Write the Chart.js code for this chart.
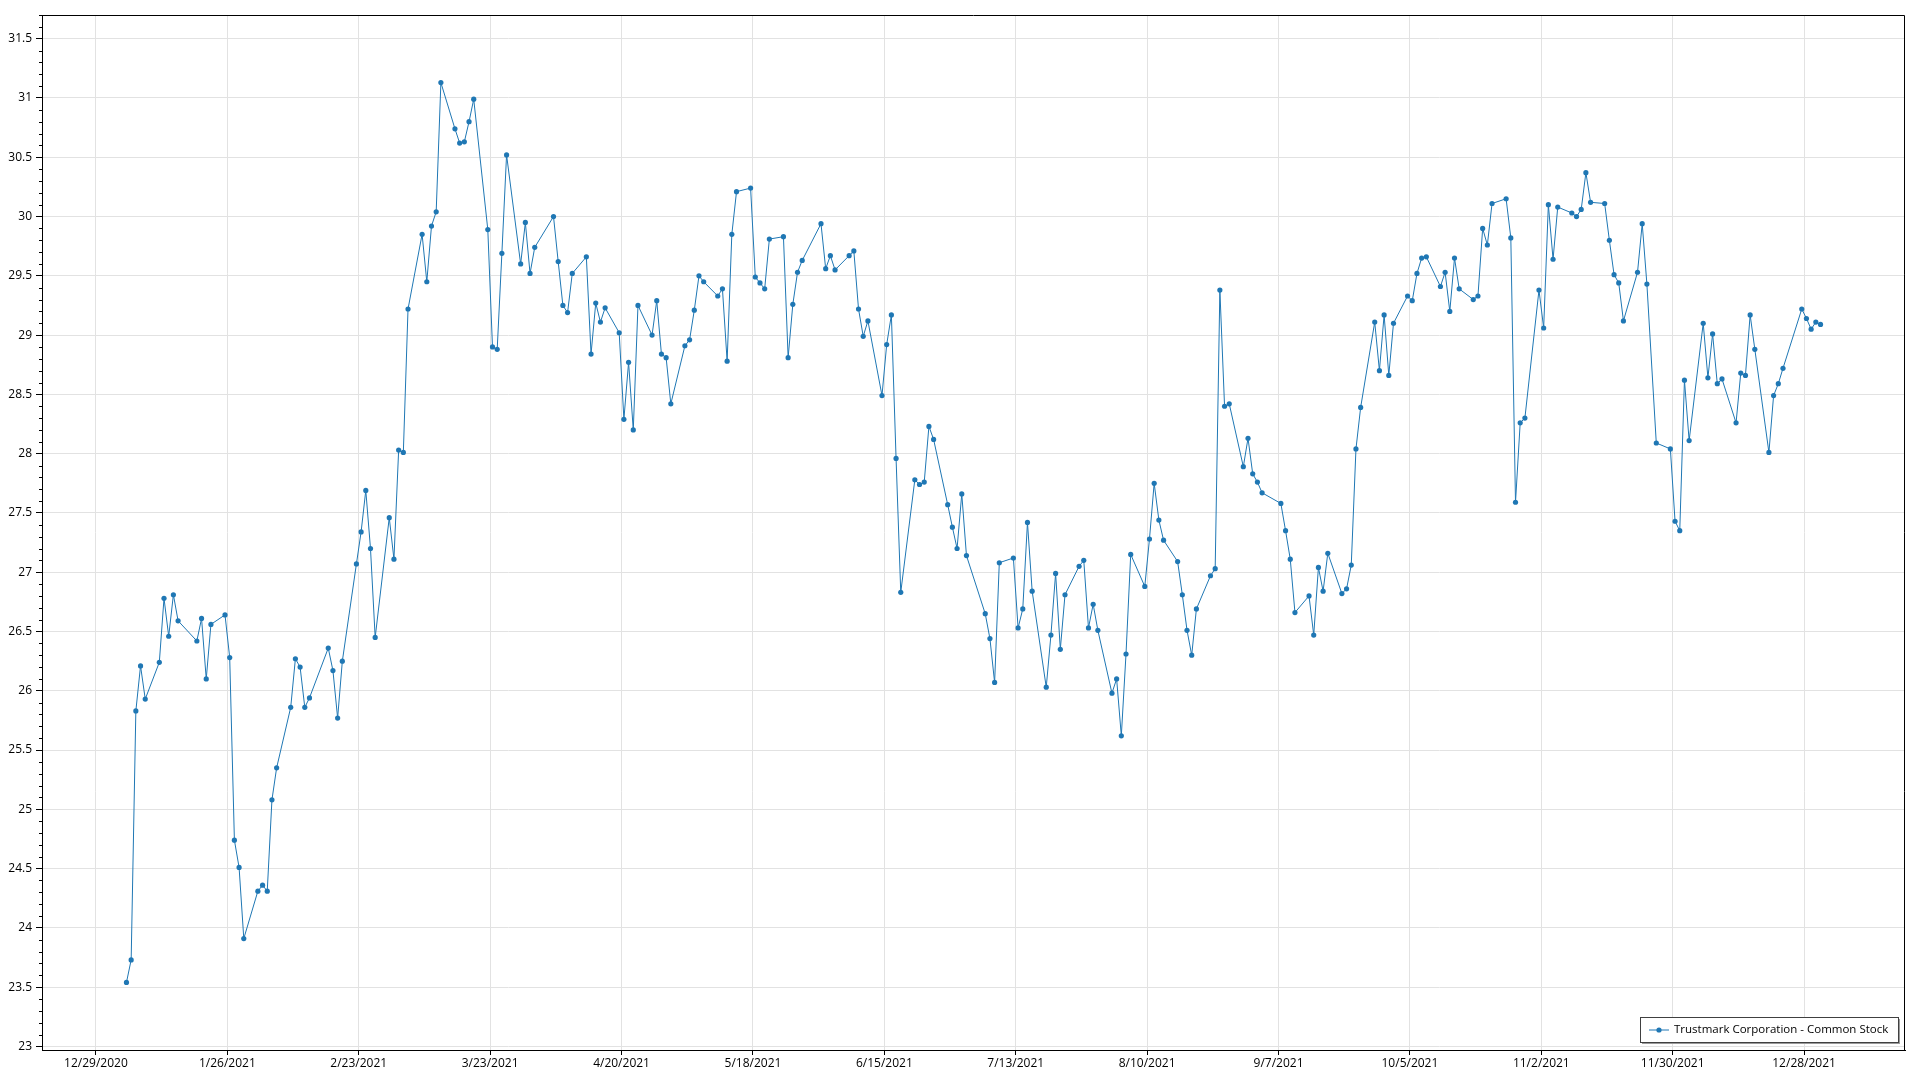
<!DOCTYPE html>
<html>
<head>
<meta charset="utf-8">
<script src="https://cdn.jsdelivr.net/npm/chart.js@4.4.1/dist/chart.umd.min.js"></script>
<style>
  html, body { margin: 0; padding: 0; background: #fff; }
  #wrap { width: 1920px; height: 1080px; }
</style>
</head>
<body>
<div id="wrap"><canvas id="stockChart" width="1920" height="1080"></canvas></div>
<script>
const seriesName = "Trustmark Corporation - Common Stock";

// trading days of 2021
const tradeDates = [
  "1/4/2021","1/5/2021","1/6/2021","1/7/2021","1/8/2021","1/11/2021","1/12/2021","1/13/2021","1/14/2021","1/15/2021","1/19/2021","1/20/2021","1/21/2021","1/22/2021","1/25/2021","1/26/2021","1/27/2021","1/28/2021","1/29/2021",
  "2/1/2021","2/2/2021","2/3/2021","2/4/2021","2/5/2021","2/8/2021","2/9/2021","2/10/2021","2/11/2021","2/12/2021","2/16/2021","2/17/2021","2/18/2021","2/19/2021","2/22/2021","2/23/2021","2/24/2021","2/25/2021","2/26/2021",
  "3/1/2021","3/2/2021","3/3/2021","3/4/2021","3/5/2021","3/8/2021","3/9/2021","3/10/2021","3/11/2021","3/12/2021","3/15/2021","3/16/2021","3/17/2021","3/18/2021","3/19/2021","3/22/2021","3/23/2021","3/24/2021","3/25/2021","3/26/2021","3/29/2021","3/30/2021","3/31/2021",
  "4/1/2021","4/5/2021","4/6/2021","4/7/2021","4/8/2021","4/9/2021","4/12/2021","4/13/2021","4/14/2021","4/15/2021","4/16/2021","4/19/2021","4/20/2021","4/21/2021","4/22/2021","4/23/2021","4/26/2021","4/27/2021","4/28/2021","4/29/2021","4/30/2021",
  "5/3/2021","5/4/2021","5/5/2021","5/6/2021","5/7/2021","5/10/2021","5/11/2021","5/12/2021","5/13/2021","5/14/2021","5/17/2021","5/18/2021","5/19/2021","5/20/2021","5/21/2021","5/24/2021","5/25/2021","5/26/2021","5/27/2021","5/28/2021",
  "6/1/2021","6/2/2021","6/3/2021","6/4/2021","6/7/2021","6/8/2021","6/9/2021","6/10/2021","6/11/2021","6/14/2021","6/15/2021","6/16/2021","6/17/2021","6/18/2021","6/21/2021","6/22/2021","6/23/2021","6/24/2021","6/25/2021","6/28/2021","6/29/2021","6/30/2021",
  "7/1/2021","7/2/2021","7/6/2021","7/7/2021","7/8/2021","7/9/2021","7/12/2021","7/13/2021","7/14/2021","7/15/2021","7/16/2021","7/19/2021","7/20/2021","7/21/2021","7/22/2021","7/23/2021","7/26/2021","7/27/2021","7/28/2021","7/29/2021","7/30/2021",
  "8/2/2021","8/3/2021","8/4/2021","8/5/2021","8/6/2021","8/9/2021","8/10/2021","8/11/2021","8/12/2021","8/13/2021","8/16/2021","8/17/2021","8/18/2021","8/19/2021","8/20/2021","8/23/2021","8/24/2021","8/25/2021","8/26/2021","8/27/2021","8/30/2021","8/31/2021",
  "9/1/2021","9/2/2021","9/3/2021","9/7/2021","9/8/2021","9/9/2021","9/10/2021","9/13/2021","9/14/2021","9/15/2021","9/16/2021","9/17/2021","9/20/2021","9/21/2021","9/22/2021","9/23/2021","9/24/2021","9/27/2021","9/28/2021","9/29/2021","9/30/2021",
  "10/1/2021","10/4/2021","10/5/2021","10/6/2021","10/7/2021","10/8/2021","10/11/2021","10/12/2021","10/13/2021","10/14/2021","10/15/2021","10/18/2021","10/19/2021","10/20/2021","10/21/2021","10/22/2021","10/25/2021","10/26/2021","10/27/2021","10/28/2021","10/29/2021",
  "11/1/2021","11/2/2021","11/3/2021","11/4/2021","11/5/2021","11/8/2021","11/9/2021","11/10/2021","11/11/2021","11/12/2021","11/15/2021","11/16/2021","11/17/2021","11/18/2021","11/19/2021","11/22/2021","11/23/2021","11/24/2021","11/26/2021","11/29/2021","11/30/2021",
  "12/1/2021","12/2/2021","12/3/2021","12/6/2021","12/7/2021","12/8/2021","12/9/2021","12/10/2021","12/13/2021","12/14/2021","12/15/2021","12/16/2021","12/17/2021","12/20/2021","12/21/2021","12/22/2021","12/23/2021","12/27/2021","12/28/2021","12/29/2021","12/30/2021","12/31/2021"
];

const closePrices = [
  23.54,23.73,25.83,26.21,25.93,26.24,26.78,26.46,26.81,26.59,26.42,26.61,26.10,26.56,26.64,26.28,24.74,24.51,23.91,
  24.31,24.36,24.31,25.08,25.35,25.86,26.27,26.20,25.86,25.94,26.36,26.17,25.77,26.25,27.07,27.34,27.69,27.20,26.45,
  27.46,27.11,28.03,28.01,29.22,29.85,29.45,29.92,30.04,31.13,30.74,30.62,30.63,30.80,30.99,29.89,28.90,28.88,29.69,30.52,29.60,29.95,29.52,
  29.74,30.00,29.62,29.25,29.19,29.52,29.66,28.84,29.27,29.11,29.23,29.02,28.29,28.77,28.20,29.25,29.00,29.29,28.84,28.81,28.42,
  28.91,28.96,29.21,29.50,29.45,29.33,29.39,28.78,29.85,30.21,30.24,29.49,29.44,29.39,29.81,29.83,28.81,29.26,29.53,29.63,
  29.94,29.56,29.67,29.55,29.67,29.71,29.22,28.99,29.12,28.49,28.92,29.17,27.96,26.83,27.78,27.74,27.76,28.23,28.12,27.57,27.38,27.20,
  27.66,27.14,26.65,26.44,26.07,27.08,27.12,26.53,26.69,27.42,26.84,26.03,26.47,26.99,26.35,26.81,27.05,27.10,26.53,26.73,26.51,
  25.98,26.10,25.62,26.31,27.15,26.88,27.28,27.75,27.44,27.27,27.09,26.81,26.51,26.30,26.69,26.97,27.03,29.38,28.40,28.42,27.89,28.13,
  27.83,27.76,27.67,27.58,27.35,27.11,26.66,26.80,26.47,27.04,26.84,27.16,26.82,26.86,27.06,28.04,28.39,29.11,28.70,29.17,28.66,
  29.10,29.33,29.29,29.52,29.65,29.66,29.41,29.53,29.20,29.65,29.39,29.30,29.33,29.90,29.76,30.11,30.15,29.82,27.59,28.26,28.30,
  29.38,29.06,30.10,29.64,30.08,30.03,30.00,30.06,30.37,30.12,30.11,29.80,29.51,29.44,29.12,29.53,29.94,29.43,28.09,28.04,27.43,
  27.35,28.62,28.11,29.10,28.64,29.01,28.59,28.63,28.26,28.68,28.66,29.17,28.88,28.01,28.49,28.59,28.72,29.22,29.14,29.05,29.11,29.09
];

const xTickLabels = ["12/29/2020","1/26/2021","2/23/2021","3/23/2021","4/20/2021","5/18/2021","6/15/2021",
  "7/13/2021","8/10/2021","9/7/2021","10/5/2021","11/2/2021","11/30/2021","12/28/2021"];
const yTickValues = [23,23.5,24,24.5,25,25.5,26,26.5,27,27.5,28,28.5,29,29.5,30,30.5,31,31.5];

// prices are stamped at midday, ticks at midnight
const sampleHour = 12;

const lineColor = "#1f77b4";
const fontFamily = "'Segoe UI', 'Open Sans', 'Noto Sans', sans-serif";

function dayNum(s, hour) {
  const p = s.split('/').map(Number);
  return Date.UTC(p[2], p[0] - 1, p[1], hour || 0) / 86400000;
}

const points = tradeDates.map((d, i) => ({ x: dayNum(d, sampleHour), y: closePrices[i] }));
const firstTick = dayNum(xTickLabels[0]);

// minor ticks on the value axis + frame around the plot
const axisDeco = {
  id: 'axisDeco',
  afterDraw(chart) {
    const ctx = chart.ctx;
    const a = chart.chartArea;
    const ys = chart.scales.y;
    ctx.save();
    ctx.strokeStyle = '#000';
    ctx.lineWidth = 1;
    ctx.beginPath();
    for (let k = Math.ceil(ys.min * 10); k <= Math.floor(ys.max * 10); k++) {
      if (k % 5 === 0) continue;
      const py = Math.round(ys.getPixelForValue(k / 10)) + 0.5;
      ctx.moveTo(a.left - 3, py);
      ctx.lineTo(a.left, py);
    }
    ctx.stroke();
    ctx.beginPath();
    ctx.moveTo(Math.round(a.left) + 0.5, Math.round(a.top) + 0.5);
    ctx.lineTo(Math.round(a.right) - 0.5, Math.round(a.top) + 0.5);
    ctx.lineTo(Math.round(a.right) - 0.5, Math.round(a.bottom));
    ctx.stroke();
    ctx.restore();
  }
};

// legend box in the lower right corner of the plot
const legendBox = {
  id: 'legendBox',
  afterDraw(chart) {
    const ctx = chart.ctx;
    const a = chart.chartArea;
    const ds = chart.data.datasets[0];
    ctx.save();
    ctx.font = '11.5px ' + fontFamily;
    const tw = ctx.measureText(ds.label).width;
    const w = Math.round(tw + 44), h = 25;
    const x = Math.round(a.right - 7 - w), y = Math.round(a.bottom - 8 - h);
    ctx.fillStyle = '#9a9a9a';
    ctx.fillRect(x + 2, y + 2, w, h);
    ctx.fillStyle = '#fff';
    ctx.fillRect(x, y, w, h);
    ctx.strokeStyle = '#404040';
    ctx.lineWidth = 1;
    ctx.strokeRect(x + 0.5, y + 0.5, w, h);
    const cy = y + h / 2 + 0.5;
    ctx.strokeStyle = ds.borderColor;
    ctx.beginPath();
    ctx.moveTo(x + 9, cy);
    ctx.lineTo(x + 29, cy);
    ctx.stroke();
    ctx.fillStyle = ds.pointBackgroundColor;
    ctx.beginPath();
    ctx.arc(x + 19, cy, 2.6, 0, Math.PI * 2);
    ctx.fill();
    ctx.fillStyle = '#000';
    ctx.textBaseline = 'middle';
    ctx.fillText(ds.label, x + 34, cy);
    ctx.restore();
  }
};

Chart.defaults.font.family = fontFamily;
Chart.defaults.font.size = 12;
Chart.defaults.color = '#000';

new Chart(document.getElementById('stockChart'), {
  type: 'line',
  data: {
    datasets: [{
      label: seriesName,
      data: points,
      borderColor: lineColor,
      backgroundColor: lineColor,
      pointBackgroundColor: lineColor,
      borderWidth: 1,
      pointRadius: 2.6,
      pointBorderWidth: 0,
      pointHoverRadius: 2.6,
      tension: 0,
      fill: false
    }]
  },
  options: {
    responsive: false,
    animation: false,
    devicePixelRatio: 1,
    layout: { padding: { top: 15, right: 15, left: 0, bottom: 0 } },
    plugins: {
      legend: { display: false },
      tooltip: { enabled: false }
    },
    scales: {
      x: {
        type: 'linear',
        min: firstTick - 11.5,
        max: firstTick + 385.5,
        afterBuildTicks: s => { s.ticks = xTickLabels.map(l => ({ value: dayNum(l) })); },
        afterFit: s => { s.height = 30; },
        ticks: {
          autoSkip: false,
          maxRotation: 0,
          padding: 1,
          callback: (v, i) => xTickLabels[i]
        },
        grid: { color: '#e2e2e2', tickColor: '#000', tickLength: 5 },
        border: { color: '#000', width: 1 }
      },
      y: {
        type: 'linear',
        min: 22.97,
        max: 31.7,
        afterBuildTicks: s => { s.ticks = yTickValues.map(v => ({ value: v })); },
        afterFit: s => { s.width = 42; },
        ticks: {
          padding: 4,
          callback: v => String(v)
        },
        grid: { color: '#e2e2e2', tickColor: '#000', tickLength: 6 },
        border: { color: '#000', width: 1 }
      }
    }
  },
  plugins: [axisDeco, legendBox]
});
</script>
</body>
</html>
